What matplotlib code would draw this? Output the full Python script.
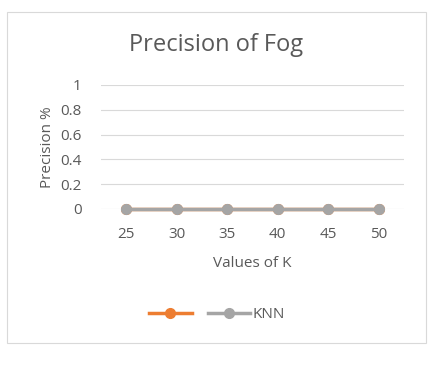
import matplotlib.pyplot as plt
from matplotlib.patches import Rectangle

plt.rcParams['font.family'] = ['Open Sans', 'DejaVu Sans']

k_values = [25, 30, 35, 40, 45, 50]
series1 = [0, 0, 0, 0, 0, 0]
knn = [0, 0, 0, 0, 0, 0]
yticks = [0, 0.2, 0.4, 0.6, 0.8, 1]

txt = '#595959'
fig = plt.figure(figsize=(4.33, 3.68), dpi=100)
fig.patches.append(Rectangle((7/433, 1-343/368), 419/433, 331/368, transform=fig.transFigure,
                             fill=False, edgecolor='#d9d9d9', lw=0.8))
ax = fig.add_axes([101/433, 1-209/368, 303/433, 124/368])

x = list(range(len(k_values)))
l1, = ax.plot(x, series1, color='#ed7d31', lw=2.5, marker='o', ms=7, clip_on=False, zorder=3)
l2, = ax.plot(x, knn, color='#a5a5a5', lw=2.5, marker='o', ms=7, clip_on=False, zorder=4)

ax.set_xlim(-0.5, len(k_values) - 0.5)
ax.set_ylim(0, 1)
ax.set_yticks(yticks)
ax.set_yticklabels(['0', '0.2', '0.4', '0.6', '0.8', '1'])
ax.set_xticks(x)
ax.set_xticklabels([str(k) for k in k_values])
ax.grid(axis='y', color='#d9d9d9', lw=0.8)
ax.set_axisbelow(True)
for s in ax.spines.values():
    s.set_visible(False)
ax.tick_params(length=0, colors=txt, labelsize=11, pad=13)
ax.tick_params(axis='y', pad=14)
ax.set_xlabel('Values of K', color=txt, fontsize=11, labelpad=10)
ax.set_ylabel('Precision %', color=txt, fontsize=11, labelpad=4)
fig.text(216/433, 1-45/368, 'Precision of Fog', color=txt, fontsize=17, ha='center', va='center')

fig.legend([l1, l2], ['', 'KNN'], loc='center', bbox_to_anchor=(217/433, 1-315/368), ncol=2,
           frameon=False, fontsize=11, labelcolor=txt, handlelength=2.8, columnspacing=0.9,
           handletextpad=0.15)

fig.savefig('out.png', dpi=100, facecolor='white')
